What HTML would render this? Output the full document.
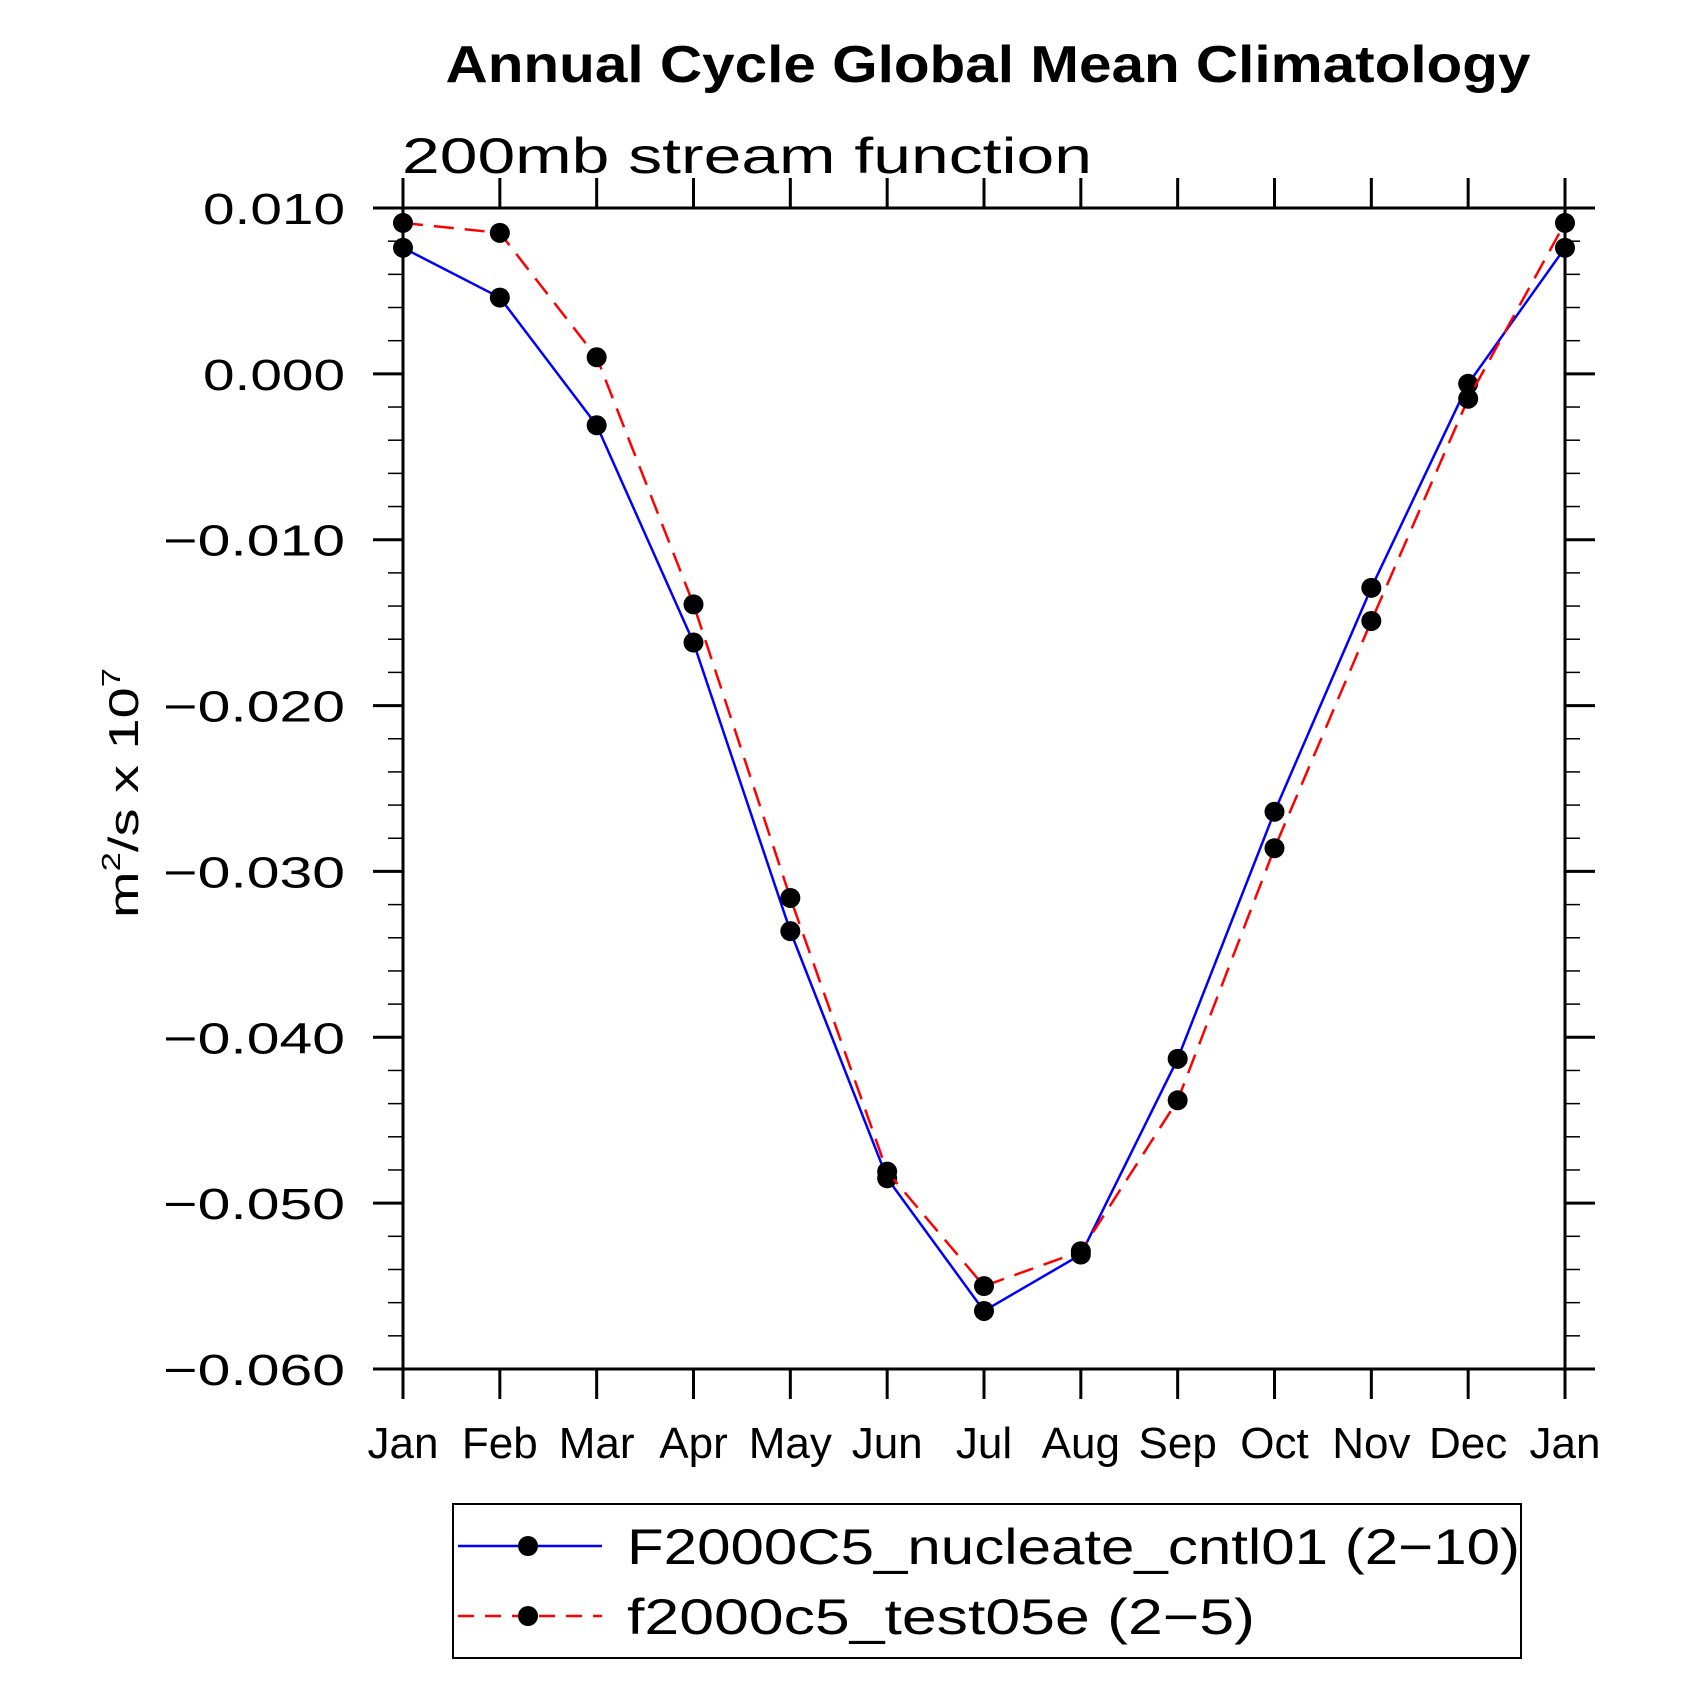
<!DOCTYPE html>
<html><head><meta charset="utf-8"><style>
html,body{margin:0;padding:0;background:#fff}
svg{display:block}
text{font-family:"Liberation Sans",sans-serif}
</style></head><body>
<svg id="chart" width="1697" height="1697" viewBox="0 0 1697 1697" xmlns="http://www.w3.org/2000/svg">
<text x="988" y="82" font-size="52" font-weight="bold" text-anchor="middle" textLength="1085" lengthAdjust="spacingAndGlyphs">Annual Cycle Global Mean Climatology</text>
<text x="402" y="173" font-size="50" textLength="690" lengthAdjust="spacingAndGlyphs">200mb stream function</text>
<text transform="translate(138,793) rotate(-90)" font-size="42" text-anchor="middle" textLength="250" lengthAdjust="spacingAndGlyphs">m<tspan font-size="26" dy="-18">2</tspan><tspan dy="18">/s x 10</tspan><tspan font-size="26" dy="-18">7</tspan></text>
<g id="axes"></g>
<g id="series"></g>
<g>
<rect x="453" y="1504" width="1068" height="154" fill="none" stroke="#000" stroke-width="2"/>
<g>
<line x1="458" y1="1546" x2="602" y2="1546" stroke="#0000ff" stroke-width="2.5"/>
<circle cx="528" cy="1546" r="10" fill="#000"/>
<text x="627" y="1564" font-size="50" textLength="893" lengthAdjust="spacingAndGlyphs">F2000C5_nucleate_cntl01 (2−10)</text>
</g>
<g>
<line x1="458" y1="1616" x2="602" y2="1616" stroke="#ff0000" stroke-width="2.5" stroke-dasharray="16,11"/>
<circle cx="528" cy="1616" r="10" fill="#000"/>
<text x="627" y="1634" font-size="50" textLength="628" lengthAdjust="spacingAndGlyphs">f2000c5_test05e (2−5)</text>
</g>
</g>
</svg>
<script>
const months = ["Jan","Feb","Mar","Apr","May","Jun","Jul","Aug","Sep","Oct","Nov","Dec","Jan"];
const cntl01 = [0.0076,0.0046,-0.0031,-0.0162,-0.0336,-0.0485,-0.0565,-0.0531,-0.0413,-0.0264,-0.0129,-0.0006,0.0076];
const test05e = [0.0091,0.0085,0.0010,-0.0139,-0.0316,-0.0481,-0.0550,-0.0529,-0.0438,-0.0286,-0.0149,-0.0015,0.0091];
const yTicks = [0.010,0.000,-0.010,-0.020,-0.030,-0.040,-0.050,-0.060];
const yTickLabels = ["0.010","0.000","−0.010","−0.020","−0.030","−0.040","−0.050","−0.060"];

const NS="http://www.w3.org/2000/svg";
const X0=403,X1=1565,Y0=208,Y1=1369,YMAX=0.010,YMIN=-0.060;
function xs(i){return X0+(X1-X0)*i/(months.length-1);}
function ys(v){return Y0+(YMAX-v)/(YMAX-YMIN)*(Y1-Y0);}
function mk(tag,attrs,parent){const e=document.createElementNS(NS,tag);for(const k in attrs)e.setAttribute(k,attrs[k]);parent.appendChild(e);return e;}
const axes=document.getElementById('axes');
const frame=mk('rect',{x:X0,y:Y0,width:X1-X0,height:Y1-Y0,fill:'none',stroke:'#000','stroke-width':3},axes);


for(let v=YMIN;v<=YMAX+1e-9;v+=0.002){
  const y=ys(v);
  mk('line',{x1:X0-15,y1:y,x2:X0,y2:y,stroke:'#000','stroke-width':1.5},axes);
  mk('line',{x1:X1,y1:y,x2:X1+15,y2:y,stroke:'#000','stroke-width':1.5},axes);
}
yTicks.forEach((v,i)=>{
  const y=ys(v);
  mk('line',{x1:X0-30,y1:y,x2:X0,y2:y,stroke:'#000','stroke-width':3},axes);
  mk('line',{x1:X1,y1:y,x2:X1+30,y2:y,stroke:'#000','stroke-width':3},axes);
  const lbl=yTickLabels[i];
  const w=lbl.length*(lbl.startsWith('−')?30.3:28.4);
  const t=mk('text',{x:345,y:y+16,'font-size':44,'text-anchor':'end',textLength:w,lengthAdjust:'spacingAndGlyphs'},axes);
  t.textContent=lbl;
  
  
});
months.forEach((m,i)=>{
  const x=xs(i);
  mk('line',{x1:x,y1:Y0-30,x2:x,y2:Y0,stroke:'#000','stroke-width':3},axes);
  mk('line',{x1:x,y1:Y1,x2:x,y2:Y1+30,stroke:'#000','stroke-width':3},axes);
  const t=mk('text',{x:x,y:1458,'font-size':44,'text-anchor':'middle'},axes);
  t.textContent=m;
  
  
});
const series=document.getElementById('series');
function draw(vals,color,dash,name){
  const g=mk('g',{},series);
  
  
  const pts=vals.map((v,i)=>xs(i)+','+ys(v)).join(' ');
  const attrs={points:pts,fill:'none',stroke:color,'stroke-width':2.5};
  if(dash)attrs['stroke-dasharray']=dash;
  const pl=mk('polyline',attrs,g);
  
  
  vals.forEach((v,i)=>{
    const c=mk('circle',{cx:xs(i),cy:ys(v),r:10,fill:'#000'},g);
    
    
  });
}
draw(cntl01,'#0000ff',null,'series-cntl01');
draw(test05e,'#ff0000','20,11','series-test05e');
</script>
</body></html>
